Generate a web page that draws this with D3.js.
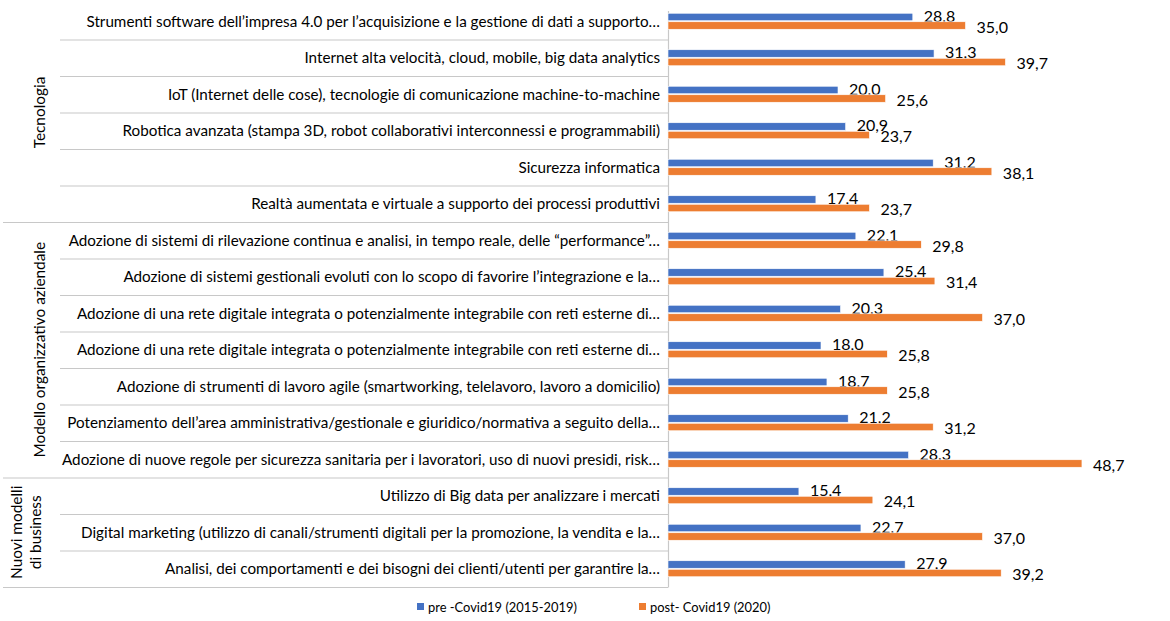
<!DOCTYPE html>
<html>
<head>
<meta charset="utf-8">
<script src="https://cdn.jsdelivr.net/npm/d3@7"></script>
<style>
  body { margin: 0; background: #fff; }
  svg { font-family: Lato, "Open Sans", sans-serif; }
</style>
</head>
<body>
<div id="chart"></div>
<script>
// categorie (asse verticale)
var categorie = [
  "Strumenti software dell’impresa 4.0 per l’acquisizione e la gestione di dati a supporto…",
  "Internet alta velocità, cloud, mobile, big data analytics",
  "IoT (Internet delle cose), tecnologie di comunicazione machine-to-machine",
  "Robotica avanzata (stampa 3D, robot collaborativi interconnessi e programmabili)",
  "Sicurezza informatica",
  "Realtà aumentata e virtuale a supporto dei processi produttivi",
  "Adozione di sistemi di rilevazione continua e analisi, in tempo reale, delle “performance”…",
  "Adozione di sistemi gestionali evoluti con lo scopo di favorire l’integrazione e la…",
  "Adozione di una rete digitale integrata o potenzialmente integrabile con reti esterne di…",
  "Adozione di una rete digitale integrata o potenzialmente integrabile con reti esterne di…",
  "Adozione di strumenti di lavoro agile (smartworking, telelavoro, lavoro a domicilio)",
  "Potenziamento dell’area amministrativa/gestionale e giuridico/normativa a seguito della…",
  "Adozione di nuove regole per sicurezza sanitaria per i lavoratori, uso di nuovi presidi, risk…",
  "Utilizzo di Big data per analizzare i mercati",
  "Digital marketing (utilizzo di canali/strumenti digitali per la promozione, la vendita e la…",
  "Analisi, dei comportamenti e dei bisogni dei clienti/utenti per garantire la…"
];
// gruppi: nome (righe) e numero di righe
var gruppi = [["Tecnologia"], ["Modello organizzativo aziendale"], ["Nuovi modelli", "di business"]];
var righeGruppo = [6, 7, 3];
// serie
var serie = ["pre -Covid19 (2015-2019)", "post- Covid19 (2020)"];
var pre  = [28.8, 31.3, 20.0, 20.9, 31.2, 17.4, 22.1, 25.4, 20.3, 18.0, 18.7, 21.2, 28.3, 15.4, 22.7, 27.9];
var post = [35.0, 39.7, 25.6, 23.7, 38.1, 23.7, 29.8, 31.4, 37.0, 25.8, 25.8, 31.2, 48.7, 24.1, 37.0, 39.2];
var colori = ["#4472C4", "#ED7D31"];

var W = 1170, H = 621;
var asseX = 668, topY = 3, bottomY = 587;

var svg = d3.select("#chart").append("svg")
    .attr("width", W).attr("height", H);

/*scale*/
var x = d3.scaleLinear().domain([0, 50]).range([asseX, asseX + 425]);
var y = d3.scaleBand().domain(d3.range(categorie.length)).range([topY, bottomY]);
var y2 = d3.scaleBand().domain([0, 1]).range([0, 16]).paddingInner(0.12);

var fmt = function (v) { return d3.format(".1f")(v).replace(".", ","); };

// misura un testo e restituisce la dimensione del font per ottenere la larghezza voluta
function adatta(testo, larghezza) {
  var t = svg.append("text").style("font-size", "14px").text(testo);
  var w = t.node().getComputedTextLength();
  t.remove();
  return 14 * larghezza / w;
}

/*etichette categorie*/
var fs = adatta(categorie[0], 574);
svg.append("g").selectAll("text").data(categorie).join("text")
    .attr("x", asseX - 8)
    .attr("y", function (d, i) { return y(i) + y.bandwidth() / 2; })
    .attr("dy", "0.35em")
    .attr("text-anchor", "end")
    .attr("fill", "#000")
    .style("font-size", fs + "px")
    .text(function (d) { return d; });

/*linee separatrici*/
var confini = [];
var acc = 0;
righeGruppo.forEach(function (n) { acc += n; confini.push(acc); });
var linee = d3.range(1, categorie.length + 1);
svg.append("g").selectAll("line").data(linee).join("line")
    .attr("x1", function (d) { return confini.indexOf(d) >= 0 ? 3 : 60; })
    .attr("x2", asseX)
    .attr("y1", function (d) { return y(d - 1) + y.bandwidth() + 0.5; })
    .attr("y2", function (d) { return y(d - 1) + y.bandwidth() + 0.5; })
    .attr("stroke", "#c8c8c8").attr("stroke-width", 1.2);

/*asse verticale*/
svg.append("line")
    .attr("x1", asseX + 0.5).attr("x2", asseX + 0.5)
    .attr("y1", topY + 8).attr("y2", bottomY + 0.5)
    .attr("stroke", "#c8c8c8").attr("stroke-width", 1.2);

/*nomi dei gruppi*/
var fsG = adatta(gruppi[1][0], 216);
var inizio = 0;
gruppi.forEach(function (g, gi) {
  var y0 = y(inizio), y1 = y(inizio + righeGruppo[gi] - 1) + y.bandwidth();
  var cy = (y0 + y1) / 2;
  var t = svg.append("text")
      .attr("transform", "translate(" + (g.length > 1 ? 23 : 40) + "," + cy + ") rotate(-90)")
      .attr("text-anchor", "middle")
      .attr("fill", "#000")
      .style("font-size", fsG + "px");
  g.forEach(function (r, ri) {
    t.append("tspan").attr("x", 0).attr("dy", ri === 0 ? (g.length > 1 ? "-0.05em" : "0.35em") : "1.2em").text(r);
  });
  inizio += righeGruppo[gi];
});

/*barre*/
var valori = [pre, post];
valori.forEach(function (vals, si) {
  var gb = svg.append("g");
  gb.selectAll("rect").data(vals).join("rect")
      .attr("x", x(0))
      .attr("y", function (d, i) { return y(i) + y.bandwidth() / 2 - 8 + y2(si); })
      .attr("width", function (d) { return x(d) - x(0); })
      .attr("height", y2.bandwidth())
      .attr("fill", colori[si])
      .attr("stroke", "#fff").attr("stroke-width", 0.6);
  gb.selectAll("text").data(vals).join("text")
      .attr("x", function (d) { return x(d) + 11; })
      .attr("y", function (d, i) { return y(i) + y.bandwidth() / 2 - 8 + y2(si) + y2.bandwidth() / 2 + (si === 0 ? -1 : 1.5); })
      .attr("dy", "0.35em")
      .attr("fill", "#000")
      .style("font-size", (fs + 0.8) + "px")
      .text(fmt);
});

/*legenda*/
var fsL = adatta(serie[0], 149);
var leg = svg.append("g").attr("transform", "translate(0,607)");
var legX = [417, 639];
serie.forEach(function (s, i) {
  leg.append("rect").attr("x", legX[i]).attr("y", -4).attr("width", 7).attr("height", 7).attr("fill", colori[i]);
  leg.append("text").attr("x", legX[i] + 11).attr("y", 0).attr("dy", "0.35em")
      .attr("fill", "#000").style("font-size", fsL + "px").text(s);
});
</script>
</body>
</html>
